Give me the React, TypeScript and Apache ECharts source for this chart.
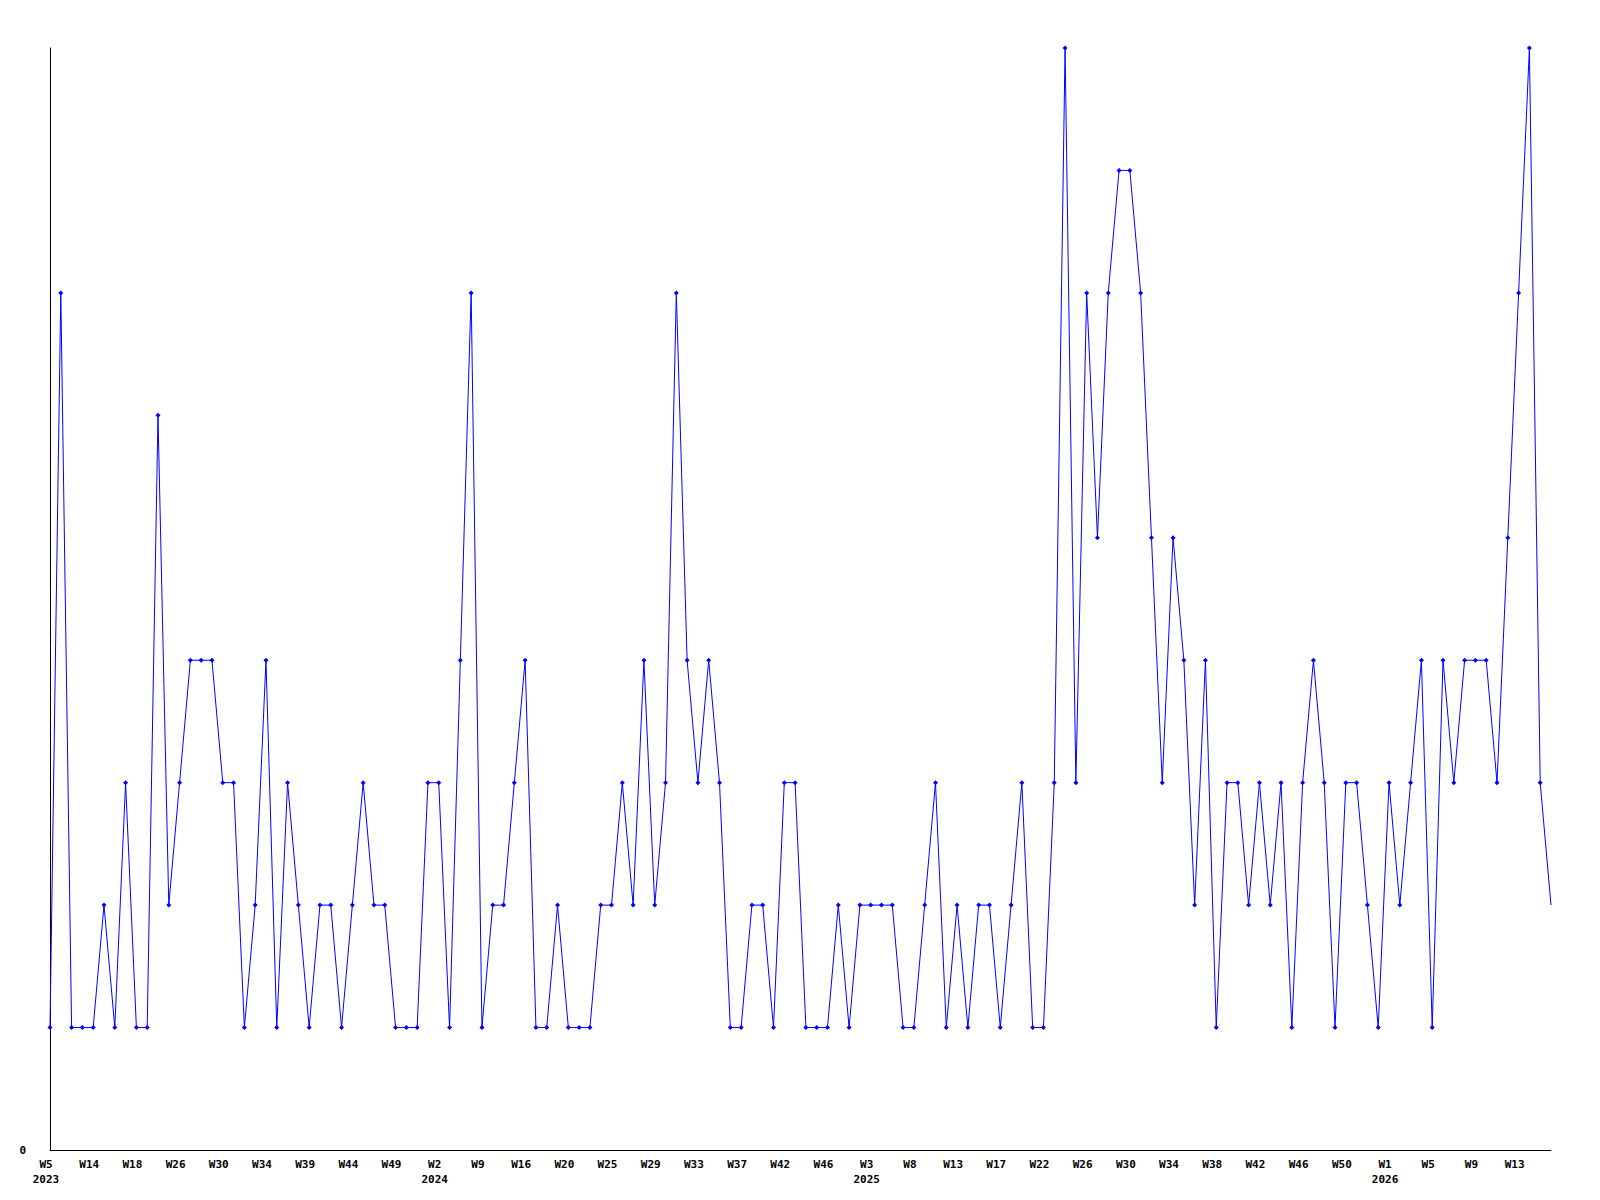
import React, { useEffect, useRef } from "react";
import * as echarts from "echarts";

// Week labels shown every 4th category (others are empty strings)
const shownLabels: string[] = [
  "W5\n2023", "W14", "W18", "W26", "W30", "W34", "W39", "W44", "W49",
  "W2\n2024", "W9", "W16", "W20", "W25", "W29", "W33", "W37", "W42", "W46",
  "W3\n2025", "W8", "W13", "W17", "W22", "W26", "W30", "W34", "W38", "W42", "W46", "W50",
  "W1\n2026", "W5", "W9", "W13",
];

const values: number[] = [
  1, 7, 1, 1, 1, 2, 1, 3, 1, 1,
  6, 2, 3, 4, 4, 4, 3, 3, 1, 2,
  4, 1, 3, 2, 1, 2, 2, 1, 2, 3,
  2, 2, 1, 1, 1, 3, 3, 1, 4, 7,
  1, 2, 2, 3, 4, 1, 1, 2, 1, 1,
  1, 2, 2, 3, 2, 4, 2, 3, 7, 4,
  3, 4, 3, 1, 1, 2, 2, 1, 3, 3,
  1, 1, 1, 2, 1, 2, 2, 2, 2, 1,
  1, 2, 3, 1, 2, 1, 2, 2, 1, 2,
  3, 1, 1, 3, 9, 3, 7, 5, 7, 8,
  8, 7, 5, 3, 5, 4, 2, 4, 1, 3,
  3, 2, 3, 2, 3, 1, 3, 4, 3, 1,
  3, 3, 2, 1, 3, 2, 3, 4, 1, 4,
  3, 4, 4, 4, 3, 5, 7, 9, 3, 2,
];

const categories: string[] = values.map((_, i) =>
  i % 4 === 0 && shownLabels[i / 4] !== undefined ? shownLabels[i / 4] : "c" + i
);

export default function App() {
  const ref = useRef<HTMLDivElement>(null);
  useEffect(() => {
    if (!ref.current) return;
    const chart = echarts.init(ref.current, null, { renderer: "svg" });
    const font = "DejaVu Sans Mono";
    const data = values.map((v, i) =>
      i === values.length - 1 ? { value: v, symbol: "none" } : v
    );
    chart.setOption({
      animation: false,
      backgroundColor: "#ffffff",
      grid: { left: 42, right: 41, top: 40, bottom: 42, containLabel: false },
      xAxis: {
        type: "category",
        data: categories,
        boundaryGap: false,
        axisLine: { show: true, lineStyle: { color: "#000", width: 1 } },
        axisTick: { show: false },
        splitLine: { show: false },
        axisLabel: {
          interval: 3,
          margin: 7,
          color: "#000",
          fontFamily: font,
          fontWeight: "bold",
          fontSize: 11,
          lineHeight: 15,
          padding: [0, 8, 0, 0],
          formatter: (v: string) => (v.startsWith("c") ? "" : v),
        },
      },
      yAxis: {
        type: "value",
        min: 0,
        max: 9,
        interval: 9,
        axisLine: { show: true, lineStyle: { color: "#000", width: 1 } },
        axisTick: { show: false },
        splitLine: { show: false },
        axisLabel: {
          margin: 24,
          color: "#000",
          fontFamily: font,
          fontWeight: "bold",
          fontSize: 11,
          formatter: (v: number) => (v === 0 ? "0" : ""),
        },
      },
      series: [
        {
          type: "line",
          data,
          symbol: "diamond",
          symbolSize: 5,
          showSymbol: true,
          showAllSymbol: true,
          lineStyle: { color: "#0000ff", width: 1 },
          itemStyle: { color: "#0000ff" },
          clip: false,
        },
      ],
    });
    return () => chart.dispose();
  }, []);
  return <div ref={ref} style={{ width: 1584, height: 1184 }} />;
}
